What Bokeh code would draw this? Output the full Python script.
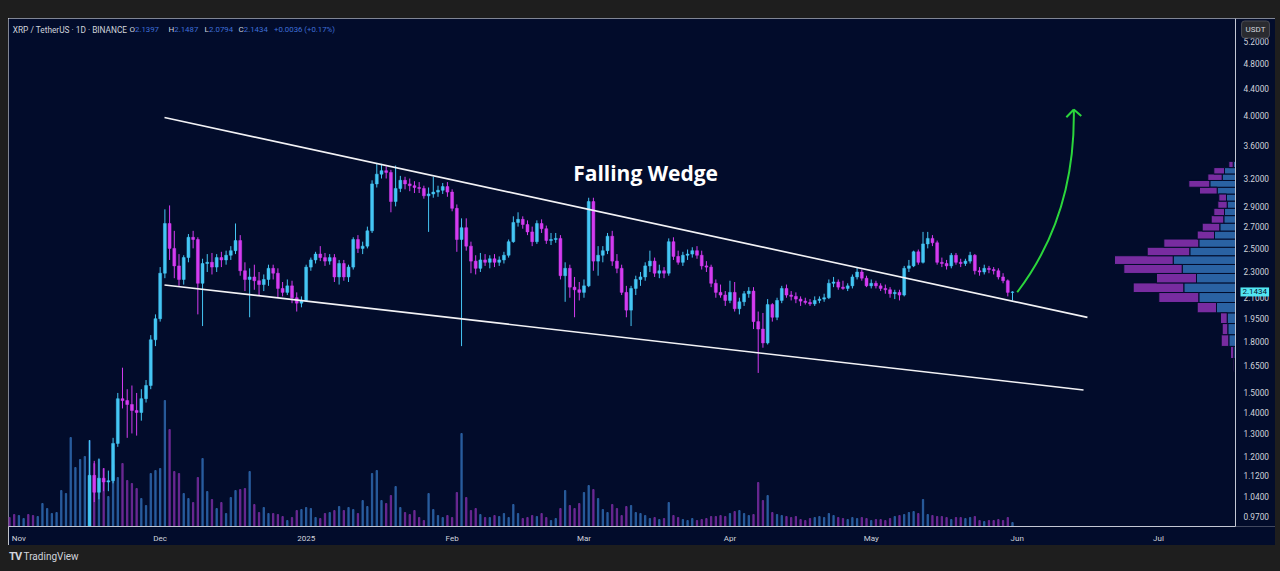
import math
import pandas as pd
from bokeh.plotting import figure
from bokeh.models import (ColumnDataSource, Range1d, LinearScale, FixedTicker, Grid,
                          CustomJSTickFormatter, Label, Div, Span)
from bokeh.layouts import column, row
from bokeh.embed import file_html
from bokeh.resources import INLINE
from bokeh.core.properties import value

# ---------------- data (XRP/USDT daily, 2024-10-30 .. 2025-05-31) ----------------
first_day = "2024-10-30"

opens = [
    0.520, 0.516, 0.503, 0.509, 0.511, 0.504, 0.502, 0.519, 0.545, 0.552,
    0.561, 0.566, 0.624, 0.646, 0.678, 0.722, 0.727, 0.903, 1.121, 1.056,
    1.110, 1.095, 1.100, 1.255, 1.470, 1.460, 1.440, 1.410, 1.400, 1.470,
    1.540, 1.810, 1.950, 2.290, 2.730, 2.500, 2.350, 2.240, 2.420, 2.600,
    2.580, 2.210, 2.370, 2.380, 2.340, 2.420, 2.400, 2.440, 2.480, 2.570,
    2.310, 2.240, 2.260, 2.230, 2.200, 2.240, 2.330, 2.290, 2.170, 2.140,
    2.190, 2.100, 2.060, 2.080, 2.340, 2.400, 2.450, 2.420, 2.390, 2.420,
    2.260, 2.370, 2.260, 2.340, 2.580, 2.500, 2.520, 2.660, 3.140, 3.250,
    3.290, 3.270, 2.950, 3.090, 3.180, 3.140, 3.120, 3.100, 3.090, 3.010,
    3.030, 3.050, 3.070, 3.110, 3.050, 2.880, 2.580, 2.690, 2.520, 2.390,
    2.330, 2.400, 2.380, 2.410, 2.380, 2.400, 2.440, 2.560, 2.740, 2.770,
    2.720, 2.650, 2.560, 2.730, 2.680, 2.570, 2.580, 2.590, 2.270, 2.330,
    2.180, 2.160, 2.140, 2.190, 2.950, 2.390, 2.440, 2.480, 2.610, 2.390,
    2.330, 2.140, 2.010, 2.170, 2.240, 2.260, 2.350, 2.390, 2.290, 2.310,
    2.290, 2.560, 2.430, 2.380, 2.440, 2.450, 2.480, 2.440, 2.350, 2.340,
    2.210, 2.140, 2.120, 2.080, 2.140, 2.020, 2.070, 2.130, 2.150, 1.930,
    1.880, 1.790, 2.050, 1.960, 2.080, 2.170, 2.120, 2.110, 2.090, 2.075,
    2.065, 2.055, 2.080, 2.090, 2.100, 2.210, 2.220, 2.180, 2.170, 2.190,
    2.260, 2.300, 2.250, 2.190, 2.210, 2.190, 2.170, 2.160, 2.130, 2.140,
    2.120, 2.330, 2.350, 2.470, 2.380, 2.540, 2.590, 2.550, 2.380, 2.370,
    2.350, 2.440, 2.380, 2.370, 2.390, 2.440, 2.310, 2.300, 2.330, 2.320,
    2.310, 2.260, 2.230, 2.1397,
]
highs = [
    0.530, 0.520, 0.515, 0.515, 0.513, 0.510, 0.525, 0.560, 0.560, 0.570,
    0.575, 0.640, 0.660, 0.730, 0.760, 0.790, 0.920, 1.270, 1.180, 1.190,
    1.150, 1.140, 1.280, 1.500, 1.640, 1.520, 1.540, 1.500, 1.520, 1.570,
    1.840, 1.980, 2.340, 2.870, 2.910, 2.660, 2.450, 2.440, 2.630, 2.660,
    2.600, 2.410, 2.450, 2.460, 2.450, 2.470, 2.480, 2.520, 2.730, 2.620,
    2.380, 2.330, 2.360, 2.300, 2.280, 2.360, 2.360, 2.330, 2.220, 2.240,
    2.230, 2.140, 2.110, 2.360, 2.420, 2.470, 2.520, 2.460, 2.450, 2.450,
    2.400, 2.400, 2.360, 2.600, 2.620, 2.560, 2.700, 3.180, 3.370, 3.370,
    3.340, 3.300, 3.350, 3.230, 3.220, 3.200, 3.170, 3.160, 3.120, 3.100,
    3.220, 3.120, 3.150, 3.160, 3.080, 2.920, 2.780, 2.780, 2.560, 2.440,
    2.460, 2.450, 2.440, 2.450, 2.430, 2.470, 2.580, 2.800, 2.840, 2.800,
    2.760, 2.700, 2.760, 2.770, 2.710, 2.640, 2.640, 2.620, 2.380, 2.360,
    2.260, 2.220, 2.240, 2.990, 2.990, 2.520, 2.520, 2.640, 2.660, 2.450,
    2.360, 2.190, 2.190, 2.270, 2.300, 2.380, 2.480, 2.420, 2.360, 2.340,
    2.590, 2.600, 2.480, 2.470, 2.490, 2.510, 2.520, 2.480, 2.390, 2.360,
    2.240, 2.200, 2.150, 2.230, 2.220, 2.100, 2.150, 2.180, 2.180, 2.000,
    1.990, 2.090, 2.060, 2.100, 2.190, 2.200, 2.150, 2.140, 2.110, 2.100,
    2.090, 2.110, 2.110, 2.130, 2.240, 2.260, 2.240, 2.230, 2.210, 2.280,
    2.340, 2.320, 2.270, 2.240, 2.230, 2.210, 2.200, 2.180, 2.160, 2.160,
    2.350, 2.400, 2.480, 2.490, 2.650, 2.650, 2.620, 2.570, 2.420, 2.400,
    2.460, 2.460, 2.410, 2.410, 2.470, 2.450, 2.340, 2.360, 2.350, 2.340,
    2.330, 2.290, 2.240, 2.1487,
]
lows = [
    0.510, 0.498, 0.496, 0.500, 0.494, 0.490, 0.500, 0.515, 0.536, 0.545,
    0.555, 0.560, 0.600, 0.620, 0.660, 0.700, 0.720, 0.890, 1.020, 1.030,
    1.060, 1.060, 1.090, 1.240, 1.420, 1.280, 1.300, 1.290, 1.360, 1.450,
    1.520, 1.770, 1.930, 2.250, 2.400, 2.250, 2.190, 2.200, 2.380, 2.500,
    1.980, 1.900, 2.300, 2.280, 2.300, 2.340, 2.360, 2.400, 2.450, 2.270,
    2.150, 1.960, 2.160, 2.120, 2.150, 2.190, 2.240, 2.100, 2.110, 2.120,
    2.060, 2.000, 2.030, 2.070, 2.310, 2.370, 2.390, 2.350, 2.360, 2.220,
    2.200, 2.230, 2.220, 2.320, 2.460, 2.450, 2.500, 2.640, 3.100, 3.200,
    3.200, 2.840, 2.900, 3.050, 3.080, 3.060, 3.040, 3.040, 2.980, 2.650,
    2.990, 3.000, 3.030, 3.000, 2.850, 2.470, 1.770, 2.480, 2.290, 2.280,
    2.300, 2.350, 2.330, 2.340, 2.350, 2.370, 2.420, 2.550, 2.700, 2.680,
    2.620, 2.520, 2.540, 2.640, 2.540, 2.530, 2.550, 2.240, 2.070, 2.100,
    1.960, 2.080, 2.100, 2.180, 2.310, 2.270, 2.380, 2.450, 2.350, 2.290,
    2.120, 1.960, 1.900, 2.120, 2.190, 2.230, 2.300, 2.260, 2.250, 2.250,
    2.270, 2.400, 2.360, 2.350, 2.400, 2.420, 2.410, 2.320, 2.300, 2.180,
    2.100, 2.100, 2.040, 2.060, 2.000, 1.980, 2.040, 2.100, 1.880, 1.610,
    1.760, 1.780, 1.930, 1.940, 2.060, 2.100, 2.080, 2.060, 2.040, 2.050,
    2.040, 2.040, 2.060, 2.070, 2.090, 2.180, 2.160, 2.160, 2.150, 2.170,
    2.240, 2.230, 2.180, 2.170, 2.170, 2.150, 2.130, 2.100, 2.090, 2.080,
    2.110, 2.300, 2.340, 2.360, 2.370, 2.500, 2.520, 2.360, 2.340, 2.320,
    2.330, 2.360, 2.340, 2.350, 2.370, 2.280, 2.270, 2.280, 2.290, 2.280,
    2.240, 2.210, 2.110, 2.0794,
]
closes = [
    0.516, 0.503, 0.509, 0.511, 0.504, 0.502, 0.519, 0.545, 0.552, 0.561,
    0.566, 0.624, 0.646, 0.678, 0.722, 0.727, 0.903, 1.121, 1.056, 1.110,
    1.095, 1.100, 1.255, 1.470, 1.460, 1.440, 1.410, 1.400, 1.470, 1.540,
    1.810, 1.950, 2.290, 2.730, 2.500, 2.350, 2.240, 2.420, 2.600, 2.580,
    2.210, 2.370, 2.380, 2.340, 2.420, 2.400, 2.440, 2.480, 2.570, 2.310,
    2.240, 2.260, 2.230, 2.200, 2.240, 2.330, 2.290, 2.170, 2.140, 2.190,
    2.100, 2.060, 2.080, 2.340, 2.400, 2.450, 2.420, 2.390, 2.420, 2.260,
    2.370, 2.260, 2.340, 2.580, 2.500, 2.520, 2.660, 3.140, 3.250, 3.290,
    3.270, 2.950, 3.090, 3.180, 3.140, 3.120, 3.100, 3.090, 3.010, 3.030,
    3.050, 3.070, 3.110, 3.050, 2.880, 2.580, 2.690, 2.520, 2.390, 2.330,
    2.400, 2.380, 2.410, 2.380, 2.400, 2.440, 2.560, 2.740, 2.770, 2.720,
    2.650, 2.560, 2.730, 2.680, 2.570, 2.580, 2.590, 2.270, 2.330, 2.180,
    2.160, 2.140, 2.190, 2.950, 2.390, 2.440, 2.480, 2.610, 2.390, 2.330,
    2.140, 2.010, 2.170, 2.240, 2.260, 2.350, 2.390, 2.290, 2.310, 2.290,
    2.560, 2.430, 2.380, 2.440, 2.450, 2.480, 2.440, 2.350, 2.340, 2.210,
    2.140, 2.120, 2.080, 2.140, 2.020, 2.070, 2.130, 2.150, 1.930, 1.880,
    1.790, 2.050, 1.960, 2.080, 2.170, 2.120, 2.110, 2.090, 2.075, 2.065,
    2.055, 2.080, 2.090, 2.100, 2.210, 2.220, 2.180, 2.170, 2.190, 2.260,
    2.300, 2.250, 2.190, 2.210, 2.190, 2.170, 2.160, 2.130, 2.140, 2.120,
    2.330, 2.350, 2.470, 2.380, 2.540, 2.590, 2.550, 2.380, 2.370, 2.350,
    2.440, 2.380, 2.370, 2.390, 2.440, 2.310, 2.300, 2.330, 2.320, 2.310,
    2.260, 2.230, 2.140, 2.1434,
]
volumes = [
    9, 12, 11, 8, 12, 11, 10, 23, 18, 13,
    14, 36, 33, 89, 59, 67, 70, 86, 63, 67,
    58, 30, 62, 49, 63, 46, 43, 38, 28, 21,
    53, 56, 58, 126, 97, 55, 53, 33, 28, 24,
    49, 68, 35, 27, 18, 24, 13, 29, 36, 37,
    38, 55, 22, 14, 19, 13, 13, 12, 10, 6,
    9, 16, 17, 19, 18, 9, 8, 13, 14, 16,
    20, 16, 19, 17, 13, 26, 20, 53, 56, 26,
    23, 31, 40, 19, 14, 12, 16, 9, 6, 33,
    17, 11, 9, 11, 9, 34, 93, 29, 16, 18,
    12, 9, 9, 11, 10, 13, 9, 22, 13, 8,
    9, 11, 10, 13, 9, 6, 8, 18, 36, 21,
    18, 23, 34, 41, 37, 28, 17, 14, 22, 18,
    11, 20, 21, 14, 13, 11, 8, 9, 7, 8,
    24, 11, 9, 7, 6, 8, 6, 7, 8, 10,
    10, 11, 10, 13, 15, 16, 13, 11, 12, 44,
    26, 31, 14, 12, 11, 10, 9, 10, 7, 6,
    8, 9, 10, 9, 13, 11, 9, 8, 7, 9,
    8, 9, 8, 6, 7, 7, 6, 8, 10, 11,
    12, 14, 15, 13, 27, 12, 11, 10, 10, 9,
    7, 9, 9, 8, 9, 10, 6, 5, 6, 6,
    7, 6, 9, 4,
]

# volume profile (price bins bottom -> top, up / down volume)
vp_lo = [1.620, 1.694, 1.768, 1.843, 1.917, 1.991, 2.065, 2.139, 2.213, 2.288, 2.362, 2.436,
         2.510, 2.584, 2.658, 2.733, 2.807, 2.881, 2.955, 3.029, 3.103, 3.178, 3.252, 3.326]
vp_hi = [1.694, 1.768, 1.843, 1.917, 1.991, 2.065, 2.139, 2.213, 2.288, 2.362, 2.436, 2.510,
         2.584, 2.658, 2.733, 2.807, 2.881, 2.955, 3.029, 3.103, 3.178, 3.252, 3.326, 3.400]
vp_up = [1.0, 1.7, 6.7, 7.7, 8.3, 19.0, 36.7, 51.7, 39.0, 53.3, 62.3, 45.7,
         36.7, 21.0, 15.7, 11.7, 11.0, 8.3, 9.0, 18.3, 25.7, 13.3, 11.0, 2.3]
vp_down = [1.3, 3.3, 7.6, 5.6, 6.7, 19.3, 40.0, 50.6, 40.0, 58.4, 58.7, 42.6,
           35.0, 17.3, 17.6, 12.6, 10.7, 9.4, 7.7, 17.7, 21.0, 14.4, 10.7, 4.4]

# drawings
wedge_upper_x = ["2024-12-01 22:00", "2025-06-15 22:00"]
wedge_upper_y = [3.970, 1.959]
wedge_lower_x = ["2024-12-01 22:00", "2025-06-15 02:00"]
wedge_lower_y = [2.197, 1.516]
arrow_x = ["2025-06-01 00:00", "2025-06-13 09:00", "2025-06-13 00:30"]   # start, control, tip
arrow_y = [2.141, 2.808, 4.084]
arrow_head_x = ["2025-06-11 10:30", "2025-06-14 14:30"]
arrow_head_y = [3.974, 3.990]
title_text = "Falling Wedge"
title_at = ("2025-03-14 02:00", 3.265)

# axis ticks
y_ticks = [0.97, 1.04, 1.12, 1.20, 1.30, 1.40, 1.50, 1.65, 1.80, 1.95, 2.10,
           2.30, 2.50, 2.70, 2.90, 3.20, 3.60, 4.00, 4.40, 4.80, 5.20]
month_ticks = ["2024-11-01", "2024-12-01", "2025-01-01", "2025-02-01", "2025-03-01",
               "2025-04-01", "2025-05-01", "2025-06-01", "2025-07-01"]
month_labels = ["Nov", "Dec", "2025", "Feb", "Mar", "Apr", "May", "Jun", "Jul"]

# header
symbol_text = "XRP / TetherUS \u00b7 1D \u00b7 BINANCE"
ohlc_names = ["O", "H", "L", "C"]
ohlc_values = ["2.1397", "2.1487", "2.0794", "2.1434"]
change_text = "+0.0036 (+0.17%)"
last_price = 2.1434
quote_ccy = "USDT"

# ---------------- styling / layout ----------------
BG = "#020c2b"
PAGE = "#1e1e1e"
UP = "#45c6f4"
DOWN = "#d43cf0"
VOL_UP = "#2d64a8"
VOL_DOWN = "#742c9c"
VP_UP = "#2a62a3"
VP_DOWN = "#782ca0"
TXT = "#d1d4dc"
AXIS = "#c3c7d3"
VAL = "#3f6fd8"
GREEN = "#2bd63c"

PAGE_W, PAGE_H = 1280, 571
LEFT_PAD, TOP_PAD, RIGHT_PAD = 8, 18, 5
FIG_W, FIG_H = 1267, 527          # navy area (chart + price scale + time scale)
PANE_W, FRAME_H = 1227, 508       # price pane width (left of price scale), pane height
BOTTOM_PAD = PAGE_H - TOP_PAD - FIG_H
DAY = 86400000.0
PX_PER_DAY = 4.709

def ms(s):
    return pd.Timestamp(s).value / 1e6

base = ms("2024-11-01")
x_start = base - 10.4 / PX_PER_DAY * DAY
x_end = x_start + FIG_W / PX_PER_DAY * DAY
y_top, y_bot = 5.633, 0.9357

def fx(px):
    return x_start + px / FIG_W * (x_end - x_start)

def fy(py):
    lt, lb = math.log(y_top), math.log(y_bot)
    return math.exp(lt - py / FRAME_H * (lt - lb))

dates = pd.date_range(first_day, periods=len(closes), freq="D")
is_up = [c >= o for o, c in zip(opens, closes)]
src = ColumnDataSource(dict(
    x=dates,
    o=opens, h=highs, l=lows, c=closes,
    top=[max(o, c) for o, c in zip(opens, closes)],
    bottom=[min(o, c) for o, c in zip(opens, closes)],
    color=[UP if u else DOWN for u in is_up],
    vcolor=[VOL_UP if u else VOL_DOWN for u in is_up],
    vol=volumes,
))

p = figure(width=FIG_W, height=FIG_H, x_axis_type="datetime", y_axis_type="log",
           y_axis_location=None, output_backend="svg", toolbar_location=None,
           x_range=Range1d(x_start, x_end), y_range=Range1d(y_bot, y_top),
           min_border_left=0, min_border_top=0, min_border_right=0,
           min_border_bottom=FIG_H - FRAME_H, margin=0)
p.background_fill_color = BG
p.border_fill_color = BG
p.outline_line_color = None
for g in p.select(type=Grid):
    g.visible = False

# extra scales for volume (bottom overlay) and volume profile (anchored at pane edge)
p.extra_y_ranges = {"vol": Range1d(0, max(volumes) / (126.0 / FRAME_H))}
p.extra_y_scales = {"vol": LinearScale()}
vp_tot = [u + d for u, d in zip(vp_up, vp_down)]
vp_unit = max(vp_tot) / 121.0
p.extra_x_ranges = {"vp": Range1d(-PANE_W * vp_unit, (FIG_W - PANE_W) * vp_unit)}
p.extra_x_scales = {"vp": LinearScale()}

# volume bars
p.vbar(x="x", top="vol", bottom=0, width=0.28 * DAY, source=src, y_range_name="vol",
       fill_color="vcolor", line_color="vcolor", fill_alpha=0.85, line_alpha=0.85)

# volume profile
vp_src = ColumnDataSource(dict(lo=vp_lo, hi=vp_hi,
                               up_left=[-u for u in vp_up],
                               dn_left=[-t for t in vp_tot],
                               dn_right=[-u for u in vp_up]))
p.quad(left="up_left", right=0, bottom="lo", top="hi", source=vp_src, x_range_name="vp",
       fill_color=VP_UP, line_color=BG, line_width=1)
p.quad(left="dn_left", right="dn_right", bottom="lo", top="hi", source=vp_src,
       x_range_name="vp", fill_color=VP_DOWN, line_color=BG, line_width=1)

# candles
p.segment(x0="x", y0="l", x1="x", y1="h", source=src, line_color="color", line_width=1)
p.vbar(x="x", top="top", bottom="bottom", width=0.62 * DAY, source=src,
       fill_color="color", line_color="color", line_width=0.5)

# wedge lines
p.segment(x0=[ms(wedge_upper_x[0]), ms(wedge_lower_x[0])],
          y0=[wedge_upper_y[0], wedge_lower_y[0]],
          x1=[ms(wedge_upper_x[1]), ms(wedge_lower_x[1])],
          y1=[wedge_upper_y[1], wedge_lower_y[1]],
          line_color="#f2f2f5", line_width=1.6)

# green arrow
p.quadratic(x0=[ms(arrow_x[0])], y0=[arrow_y[0]], cx=[ms(arrow_x[1])], cy=[arrow_y[1]],
            x1=[ms(arrow_x[2])], y1=[arrow_y[2]], line_color=GREEN, line_width=2)
p.segment(x0=[ms(arrow_head_x[0]), ms(arrow_head_x[1])], y0=arrow_head_y,
          x1=[ms(arrow_x[2])] * 2, y1=[arrow_y[2]] * 2, line_color=GREEN, line_width=2)

# time axis
xa = p.xaxis[0]
tick_ms = [ms(t) for t in month_ticks]
xa.ticker = FixedTicker(ticks=tick_ms)
xa.formatter = CustomJSTickFormatter(args=dict(tick_vals=tick_ms, tick_names=month_labels),
                                     code="""
    for (let i = 0; i < tick_vals.length; i++) {
        if (Math.abs(tick_vals[i] - tick) < 1000) { return tick_names[i]; }
    }
    return "";
""")
xa.bounds = (x_start, fx(PANE_W))
xa.axis_line_color = AXIS
xa.major_tick_out = 0
xa.major_tick_in = 0
xa.minor_tick_out = 0
xa.minor_tick_in = 0
xa.major_label_text_color = TXT
xa.major_label_text_font = "Roboto"
xa.major_label_text_font_size = "8px"
xa.major_label_standoff = 7

# price scale (right of the pane): separator line + tick labels on the log scale
p.add_layout(Span(location=fx(PANE_W), dimension="height", line_color=AXIS, line_width=1))
p.text(x=[fx(PANE_W + 8)] * len(y_ticks), y=y_ticks, text=[f"{t:.4f}" for t in y_ticks],
       text_font=value("Roboto"), text_font_size="8.3px", text_color=TXT,
       text_align="left", text_baseline="middle")

# title drawing
p.add_layout(Label(x=ms(title_at[0]), y=title_at[1], text=title_text, text_font="Open Sans",
                   text_font_style="bold", text_font_size="21px", text_color="#ffffff",
                   text_align="center", text_baseline="middle"))

# header (legend line)
HDR_Y = fy(11)
hdr = [(symbol_text, 4.3, TXT, "8.3px")]
name_x = [121, 160, 196, 230]
val_x = [126.5, 165.8, 200.6, 235.3]
for n, v, nx, vx in zip(ohlc_names, ohlc_values, name_x, val_x):
    hdr.append((n, nx, TXT, "8px"))
    hdr.append((v, vx, VAL, "7.8px"))
hdr.append((change_text, 265.5, VAL, "7.8px"))
for t, px, col, fs in hdr:
    p.add_layout(Label(x=fx(px), y=HDR_Y, text=t, text_font="Roboto", text_font_size=fs,
                       text_color=col, text_align="left", text_baseline="middle"))

# last-price badge on the price scale
p.add_layout(Label(x=fx(PANE_W + 5), y=last_price, text=f"{last_price:.4f}", text_font="Roboto",
                   text_font_size="8px", text_color="#05122c", text_align="left",
                   text_baseline="middle", background_fill_color="#52e6f2",
                   padding=2))
# currency badge
p.add_layout(Label(x=fx(PANE_W + 20), y=fy(11), text=quote_ccy, text_font="Roboto",
                   text_font_size="8px", text_color=TXT, text_align="center",
                   text_baseline="middle", background_fill_color="#2a2b30",
                   border_line_color="#4a4c55", padding=4, border_radius=3))

def pad(w, h, html=""):
    return Div(text=html, width=w, height=h, margin=0, styles={"background-color": PAGE})

top_div = pad(PAGE_W, TOP_PAD)
left_div = pad(LEFT_PAD, FIG_H)
right_div = pad(RIGHT_PAD, FIG_H)
bottom_div = pad(PAGE_W, BOTTOM_PAD,
                 '<div style="color:#d1d4dc;font-family:Roboto,sans-serif;'
                 'font-size:10px;line-height:16px;padding-top:4px;padding-left:9px;">'
                 '<b style="font-size:11px;letter-spacing:-1px;">TV</b>&nbsp;TradingView</div>')

layout = column(top_div, row(left_div, p, right_div, spacing=0), bottom_div, spacing=0)
open("out.html", "w").write(file_html(layout, INLINE))
